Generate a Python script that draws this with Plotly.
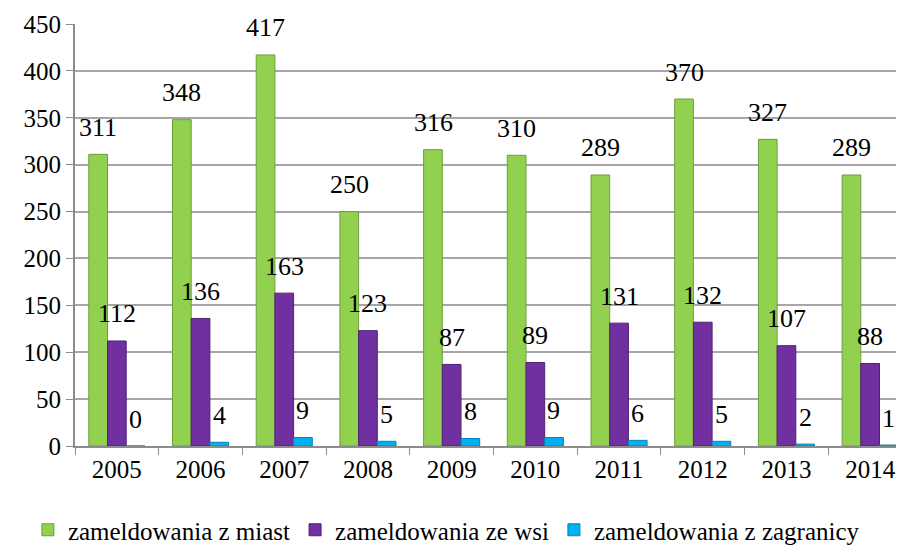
import plotly.graph_objects as go

years = ["2005", "2006", "2007", "2008", "2009", "2010", "2011", "2012", "2013", "2014"]
z_miast = [311, 348, 417, 250, 316, 310, 289, 370, 327, 289]
ze_wsi = [112, 136, 163, 123, 87, 89, 131, 132, 107, 88]
z_zagranicy = [0, 4, 9, 5, 8, 9, 6, 5, 2, 1]

names = ["zameldowania z miast", "zameldowania ze wsi", "zameldowania z zagranicy"]
colors = ["#92D050", "#7030A0", "#00B0F0"]
lines = ["#6E9E3A", "#4F2173", "#0086B8"]
series = [z_miast, ze_wsi, z_zagranicy]
FONT = "Liberation Serif"

fig = go.Figure()
for vals, name, col, lc in zip(series, names, colors, lines):
    fig.add_trace(go.Bar(x=years, y=vals, name=name,
                         marker=dict(color=col, line=dict(color=lc, width=1))))

# etykiety wartosci nad slupkami
bw = 0.222
ann = []
for k, vals in enumerate(series):
    for i, v in enumerate(vals):
        ann.append(dict(x=i + (k - 1) * bw, y=v, text=str(v), showarrow=False,
                        yshift=27, font=dict(family=FONT, size=26, color="black")))

# strona ma 8px marginesu body, wiec marginesy sa przesuniete o 8
fig.update_layout(
    width=904, height=549,
    margin=dict(l=67, r=0, t=16, b=111),
    plot_bgcolor="white", paper_bgcolor="white",
    font=dict(family=FONT, size=25, color="black"),
    barmode="group", bargap=0.33, bargroupgap=0,
    annotations=ann,
    legend=dict(orientation="h", xref="container", yref="container",
                x=0.022, xanchor="left", y=27 / 549, yanchor="middle",
                font=dict(family=FONT, size=25), itemwidth=30, tracegroupgap=0),
)
fig.update_xaxes(type="category", tickson="boundaries", ticks="outside", ticklen=7,
                 tickcolor="#8C8C8C", showline=True, linecolor="#8C8C8C", linewidth=2,
                 tickfont=dict(family=FONT, size=25), automargin=False)
fig.update_yaxes(range=[0, 450], dtick=50, ticks="outside", ticklen=7,
                 tickcolor="#8C8C8C", showline=True, linecolor="#8C8C8C", linewidth=2,
                 showgrid=True, gridcolor="#A6A6A6", gridwidth=2, zeroline=False,
                 tickfont=dict(family=FONT, size=25), automargin=False)

fig.write_html("out.html")
